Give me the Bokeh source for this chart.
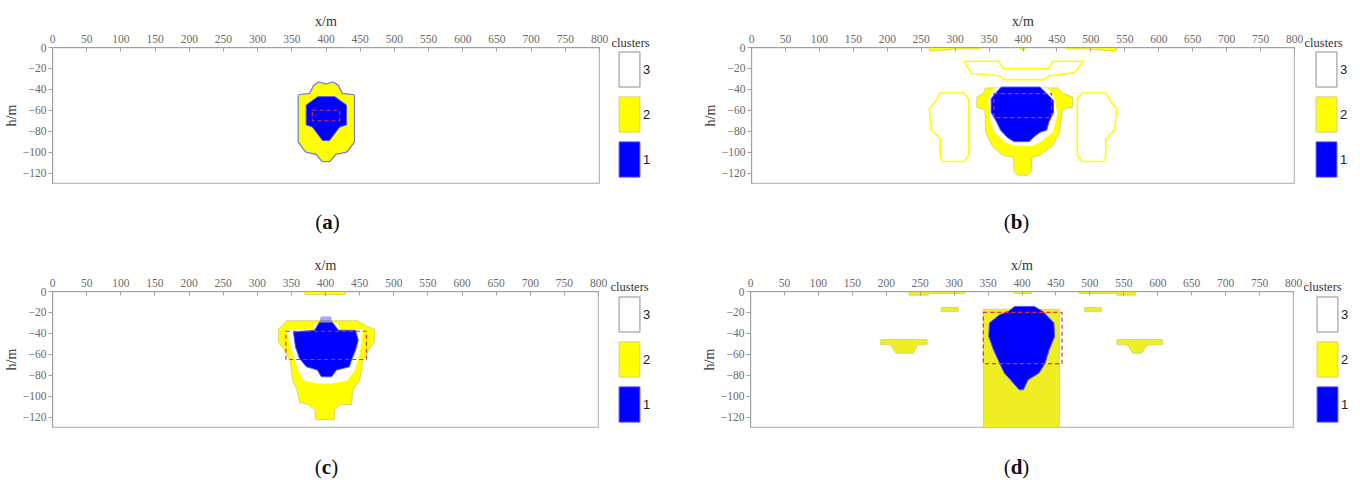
from bokeh.plotting import figure
from bokeh.models import FixedTicker, Legend, LegendItem, Range1d, Div
from bokeh.layouts import row, column
from bokeh.embed import file_html
from bokeh.resources import INLINE

# ---------------- axes / categories ----------------
X_TICKS = list(range(0, 801, 50))
H_TICKS = [0, -20, -40, -60, -80, -100, -120]
X_MIN, X_MAX = 0, 800
H_MIN, H_MAX = -130, 0
CLUSTER_LABELS = ["3", "2", "1"]
LEGEND_TITLE = "clusters"
PANEL_TAGS = ["a", "b", "c", "d"]

# ---------------- panel (a) ----------------
A_YELLOW_X = [[383, 390, 400, 410, 417, 423, 440, 440, 430, 414, 405, 395, 386, 371, 361, 361, 377]]
A_YELLOW_H = [[-37, -34, -36, -34, -37, -45, -46, -90, -99, -101, -108, -108, -101, -99, -90, -46, -45]]
A_BLUE_X = [[388, 413, 430, 430, 420, 405, 395, 380, 371, 371]]
A_BLUE_H = [[-47, -47, -55, -74, -76, -89, -89, -76, -74, -55]]
A_BOX = [380, 420, -70, -60]          # left, right, bottom, top

# ---------------- panel (b) ----------------
B_YELLOW_X = [
    [262, 339, 336, 300, 268, 262],
    [461, 538, 538, 532, 500, 464],
    [397, 403, 403, 397],
    [345, 451, 460, 473, 473, 458, 454, 444, 425, 413, 412, 406, 393, 387, 386, 370, 354, 345, 344, 332, 332, 341],
]
B_YELLOW_H = [
    [0, 0, -1.5, -1.5, -3.5, -3],
    [0, 0, -3, -3.5, -1.5, -1.5],
    [0, 0, -2, -2],
    [-38.7, -38.7, -44, -47.4, -57, -59, -81, -93.8, -103, -105, -119, -122, -122, -119, -105, -103, -93.8, -81, -59.5, -57, -47.4, -44],
]
B_WHITE_X = [[358, 435, 445, 451, 444, 425, 415, 387, 374, 358, 351, 349]]
B_WHITE_H = [[-38.7, -38.7, -45.8, -63.4, -81, -90.6, -94, -94, -90.6, -81, -68, -49]]
B_BLUE_X = [[368, 425, 438, 445, 445, 438, 435, 425, 415, 409, 387, 377, 367, 361, 353, 353, 361]]
B_BLUE_H = [[-37.8, -37.8, -45.8, -50.6, -61.8, -71.4, -79, -81, -86, -90, -90, -86, -79, -71, -62, -49, -42.6]]
B_CONTOUR_X = [
    [313, 364, 371, 438, 444, 489, 476, 438, 431, 371, 367, 324],
    [278, 313, 320, 320, 313, 281, 278, 278, 265, 262, 272],
    [522, 487, 480, 480, 487, 519, 522, 522, 535, 538, 528],
]
B_CONTOUR_H = [
    [-13.1, -13.1, -20.2, -20.2, -13.1, -13.1, -24, -27.2, -30.7, -30.7, -27.2, -24.6],
    [-43.5, -43.5, -49, -103, -109, -109, -103, -87, -79, -58.6, -50.6],
    [-43.5, -43.5, -49, -103, -109, -109, -103, -87, -79, -58.6, -50.6],
]
B_BOX = [357, 442, -67, -44]

# ---------------- panel (c) ----------------
C_YELLOW_X = [
    [370, 429, 429, 370],
    [343, 447, 460, 472, 472, 463, 455, 450, 440, 438, 422, 413, 413, 385, 385, 374, 362, 358, 352, 348, 340, 331, 331, 336],
]
C_YELLOW_H = [
    [0, 0, -3, -3],
    [-28, -28, -33, -36, -48, -56, -66, -85, -94, -108, -108, -113, -122.5, -122.5, -113, -108, -106, -94, -85, -66, -56, -48, -36, -33],
]
C_WHITE_X = [[343, 382, 384, 417, 420, 455, 450, 443, 432, 409, 388, 368, 360, 350]]
C_WHITE_H = [[-36, -36, -30, -30, -36, -36, -59, -75, -85, -88, -88, -85, -75, -56]]
C_BLUE_X = [[391, 410, 419, 444, 448, 444, 438, 435, 416, 409, 394, 388, 372, 362, 356, 353, 384]]
C_BLUE_H = [[-29.4, -29.4, -37, -37, -46.7, -56, -65.7, -72, -75, -81.5, -81.5, -75, -72, -64, -53, -38.8, -37]]
C_FADE_X = [[393, 408, 410, 391]]
C_FADE_H = [[-24, -24, -29.4, -29.4]]
C_BOX = [342, 460, -65, -38]

# ---------------- panel (d) ----------------
D_YELLOW_X = [
    [234, 262, 262, 234], [262, 316, 316, 262], [388, 414, 414, 388],
    [484, 540, 540, 484], [540, 567, 567, 540],
    [281, 306, 306, 281], [492, 517, 517, 492],
    [192, 260, 260, 246, 240, 214, 207, 192],
    [540, 607, 607, 585, 576, 563, 555, 540],
    [343, 455, 455, 343],
]
D_YELLOW_H = [
    [0, 0, -3.5, -3.5], [0, 0, -1.8, -1.8], [0, 0, -1.8, -1.8],
    [0, 0, -1.8, -1.8], [0, 0, -3.5, -3.5],
    [-15.3, -15.3, -19, -19], [-15.3, -15.3, -19, -19],
    [-46, -46, -51, -51, -59, -59, -51, -51],
    [-46, -46, -51, -51, -59, -59, -51, -51],
    [-17, -17, -130, -130],
]
D_BLUE_X = [[389, 418, 431, 447, 448, 440, 434, 425, 409, 402, 396, 383, 374, 367, 358, 351, 352, 367, 380]]
D_BLUE_H = [[-14.3, -14.3, -19, -30, -43, -55.7, -68.5, -78, -84.4, -94, -94, -84.4, -78, -68.5, -55.7, -43, -30, -22.3, -19]]
D_BOX = [343, 459, -69, -20]

# ---------------- styles ----------------
BLUE = "#0000ff"
YELLOW = "#ffff00"
SERIF = "Liberation Serif"
SANS = "Liberation Sans"


def make_panel(w, h, bl, br, bt, bb, yellow_xs, yellow_hs, blue_xs, blue_hs, box,
               white_xs=None, white_hs=None, contour_xs=None, contour_hs=None,
               halo=False, fade_xs=None, fade_hs=None, yellow_color=YELLOW):
    p = figure(width=w, height=h, min_border_left=bl, min_border_right=br,
               min_border_top=bt, min_border_bottom=bb, title=None,
               x_range=Range1d(X_MIN, X_MAX), y_range=Range1d(H_MIN, H_MAX),
               x_axis_location="above", output_backend="svg", toolbar_location=None,
               background_fill_color="white", border_fill_color="white")
    p.grid.visible = False
    p.outline_line_color = "#b4b4b4"
    p.outline_line_width = 1

    for ax, ticks in ((p.xaxis[0], X_TICKS), (p.yaxis[0], H_TICKS)):
        ax.ticker = FixedTicker(ticks=ticks)
        ax.axis_line_color = "#a0a0a0"
        ax.major_tick_line_color = "#a0a0a0"
        ax.minor_tick_line_color = None
        ax.major_label_text_font = SERIF
        ax.major_label_text_font_size = "11.5px"
        ax.major_label_text_color = "#6a6a6a"
        ax.axis_label_text_font = SERIF
        ax.axis_label_text_font_size = "14px"
        ax.axis_label_text_font_style = "normal"
        ax.axis_label_text_color = "#333333"
    p.xaxis.axis_label = "x/m"
    p.xaxis.major_tick_in = 4
    p.xaxis.major_tick_out = 0
    p.xaxis.major_label_standoff = 5
    p.xaxis.axis_label_standoff = 3
    p.yaxis.axis_label = "h/m"
    p.yaxis.major_tick_in = 0
    p.yaxis.major_tick_out = 4
    p.yaxis.major_label_standoff = 2
    p.yaxis.axis_label_standoff = 1

    p.quad(left=[X_MIN], right=[X_MAX], bottom=[H_MIN], top=[H_MAX],
           fill_color="white", line_color="#b4b4b4", line_width=1.5)
    if contour_xs is not None:
        p.patches(contour_xs, contour_hs, fill_alpha=0, line_color=yellow_color, line_width=1.6)
    if halo:
        p.patches(yellow_xs, yellow_hs, fill_alpha=0, line_color="#7a7ad8", line_width=3.5)
    p.patches(yellow_xs, yellow_hs, fill_color=yellow_color,
              line_color="#d8d86a" if not halo else yellow_color, line_width=1)
    if white_xs is not None:
        p.patches(white_xs, white_hs, fill_color="white", line_color=None)
    if fade_xs is not None:
        p.patches(fade_xs, fade_hs, fill_color=BLUE, fill_alpha=0.35, line_color=None)
    p.patches(blue_xs, blue_hs, fill_color=BLUE, line_color="#5555ff", line_width=1)
    p.quad(left=[box[0]], right=[box[1]], bottom=[box[2]], top=[box[3]], fill_alpha=0,
           line_color="#e0303a", line_width=1.2, line_dash="4 3")
    return p


def make_legend(w, h, top, bottom, x_off, y_off, yellow_xs, yellow_hs, blue_xs, blue_hs):
    # separate strip holding the "clusters" key; its own ranges keep the
    # key renderers' geometry out of view so that only the legend swatches show
    q = figure(width=w, height=h, x_axis_type=None, y_axis_type=None,
               min_border_left=0, min_border_right=0, min_border_bottom=bottom,
               min_border_top=top,
               x_range=Range1d(-20, -10), y_range=Range1d(-20, -10), title=LEGEND_TITLE,
               output_backend="svg", toolbar_location=None, outline_line_color=None,
               background_fill_color="white", border_fill_color="white")
    q.title.text_font = SERIF
    q.title.text_font_size = "12.5px"
    q.title.text_font_style = "normal"
    q.title.text_color = "#333333"
    q.title.align = "left"
    q.title.offset = 0
    q.title.standoff = -4
    q.grid.visible = False
    r3 = q.quad(left=[X_MIN], right=[X_MAX], bottom=[H_MIN], top=[H_MAX],
                fill_color="white", line_color="#b4b4b4", line_width=1.5)
    r2 = q.patches(yellow_xs, yellow_hs, fill_color=YELLOW, line_color="#d2d27a", line_width=1)
    r1 = q.patches(blue_xs, blue_hs, fill_color=BLUE, line_color="#5555ff", line_width=1)
    legend = Legend(items=[LegendItem(label=CLUSTER_LABELS[0], renderers=[r3], index=0),
                           LegendItem(label=CLUSTER_LABELS[1], renderers=[r2], index=0),
                           LegendItem(label=CLUSTER_LABELS[2], renderers=[r1], index=0)],
                    location=(x_off, y_off), glyph_width=26, glyph_height=44, spacing=1,
                    padding=0, margin=0, label_standoff=1, label_text_font=SANS,
                    label_text_font_size="13px", label_text_color="#222222",
                    label_text_baseline="bottom",
                    border_line_color=None, background_fill_alpha=0)
    q.add_layout(legend)
    return q


def caption(tag, w, left, h, line_h):
    return Div(text="(<b>%s</b>)" % tag, width=w, height=h, margin=(0, 0, 0, left),
               styles={"font-family": SERIF, "font-size": "21px", "text-align": "center",
                       "line-height": "%dpx" % line_h, "color": "#111111"})


# plots that share a row share their top and bottom borders
pa = make_panel(611, 190, 52, 12, 47, 7, A_YELLOW_X, A_YELLOW_H,
                A_BLUE_X, A_BLUE_H, A_BOX, halo=True)
la = make_legend(69, 190, 47, 7, 5, 2, A_YELLOW_X, A_YELLOW_H, A_BLUE_X, A_BLUE_H)
pb = make_panel(624, 190, 71, 10, 47, 7, B_YELLOW_X, B_YELLOW_H,
                B_BLUE_X, B_BLUE_H, B_BOX, white_xs=B_WHITE_X, white_hs=B_WHITE_H,
                contour_xs=B_CONTOUR_X, contour_hs=B_CONTOUR_H)
lb = make_legend(56, 190, 47, 7, 9, 2, B_YELLOW_X, B_YELLOW_H, B_BLUE_X, B_BLUE_H)
pc = make_panel(610, 186, 49, 12, 43, 7, C_YELLOW_X, C_YELLOW_H,
                C_BLUE_X, C_BLUE_H, C_BOX, white_xs=C_WHITE_X, white_hs=C_WHITE_H,
                fade_xs=C_FADE_X, fade_hs=C_FADE_H)
lc = make_legend(70, 186, 43, 7, 6, 1, C_YELLOW_X, C_YELLOW_H, C_BLUE_X, C_BLUE_H)
pd = make_panel(623, 186, 70, 10, 43, 7, D_YELLOW_X, D_YELLOW_H,
                D_BLUE_X, D_BLUE_H, D_BOX, yellow_color="#eeee22")
ld = make_legend(57, 186, 43, 7, 11, 1, D_YELLOW_X, D_YELLOW_H, D_BLUE_X, D_BLUE_H)

ca = caption(PANEL_TAGS[0], 547, 54, 58, 64)
cb = caption(PANEL_TAGS[1], 543, 144, 58, 64)
cc = caption(PANEL_TAGS[2], 549, 52, 46, 66)
cd = caption(PANEL_TAGS[3], 543, 144, 46, 66)

layout = column(row(pa, la, pb, lb), row(ca, cb), row(pc, lc, pd, ld), row(cc, cd))
open("out.html", "w").write(file_html(layout, INLINE))
